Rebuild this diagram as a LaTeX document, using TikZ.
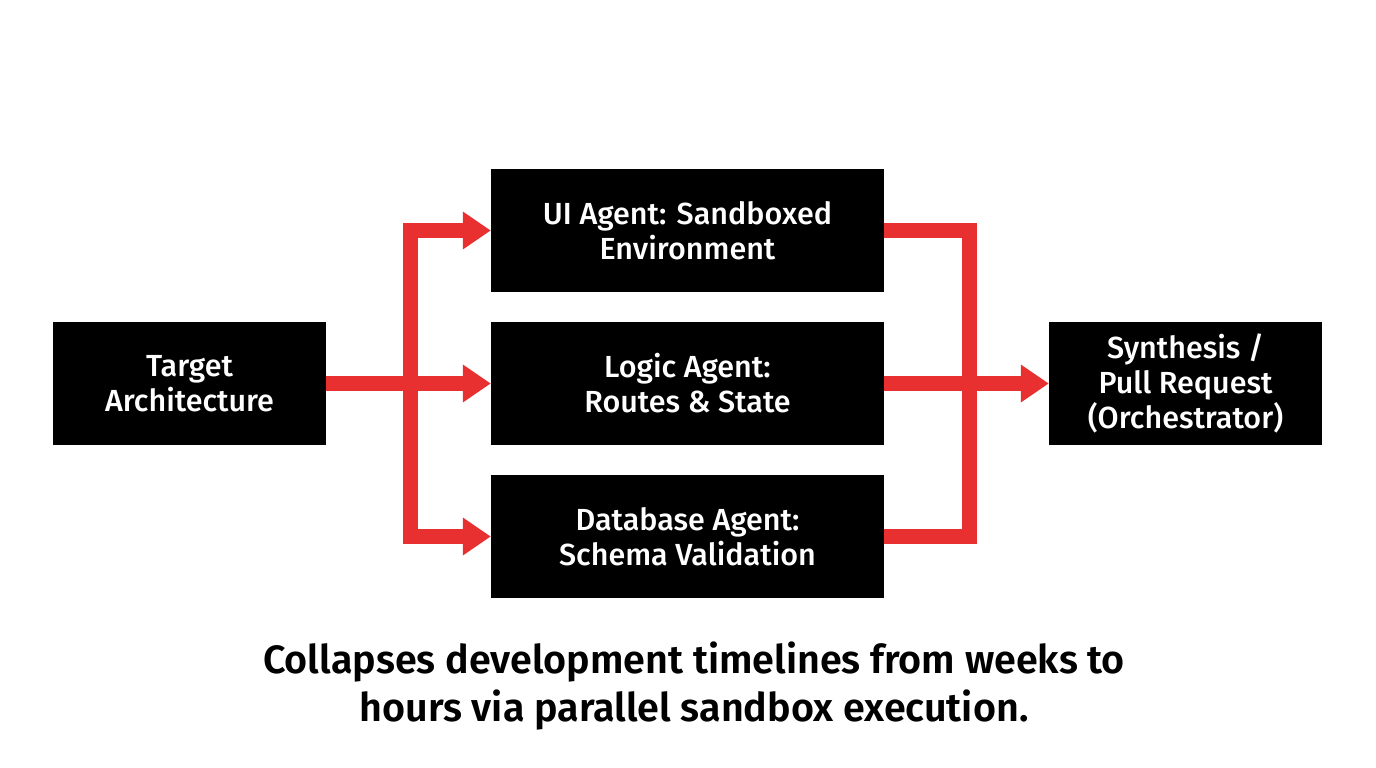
\documentclass[tikz,border=0pt]{standalone}
\usepackage{fontspec}
\setmainfont{Fira Sans}[UprightFont=* Medium, BoldFont=* SemiBold]
\usetikzlibrary{arrows.meta}
\definecolor{flowred}{RGB}{232,48,48}
\tikzset{
  box/.style={fill=black, text=white, minimum width=273pt, minimum height=123pt,
    inner sep=0pt, align=center, font=\fontsize{30.5}{35}\selectfont},
  widebox/.style={box, minimum width=393pt},
  flow/.style={draw=flowred, line width=15pt, line join=miter},
  tipped/.style={flow, -{Triangle[length=28pt, width=36pt]}}
}
\begin{document}
\begin{tikzpicture}[x=1pt,y=-1pt]
\useasboundingbox (0,0) rectangle (1376,768);
\fill[white] (0,0) rectangle (1376,768);
\node[box] (target) at (189.5,383.5) {Target\\Architecture};
\node[widebox] (ui) at (687.5,230.5) {UI Agent: Sandboxed\\Environment};
\node[widebox] (logic) at (687.5,383.5) {Logic Agent:\\Routes \& State};
\node[widebox] (db) at (687.5,536.5) {Database Agent:\\Schema Validation};
\node[box] (synth) at (1185.5,383.5) {Synthesis /\\Pull Request\\(Orchestrator)};
\coordinate (xl) at (410,383.5);
\coordinate (xr) at (969,383.5);
\draw[tipped] (target.east) -- (logic.west);
\draw[tipped] (xl) |- (ui.west);
\draw[tipped] (xl) |- (db.west);
\draw[flow] (ui.east) -| (xr);
\draw[flow] (db.east) -| (xr);
\draw[tipped] (logic.east) -- (synth.west);
\node[font=\bfseries\fontsize{39.5}{48}\selectfont, align=center] (caption) at (694,686)
  {Collapses development timelines from weeks to\\hours via parallel sandbox execution.};
\end{tikzpicture}
\end{document}
